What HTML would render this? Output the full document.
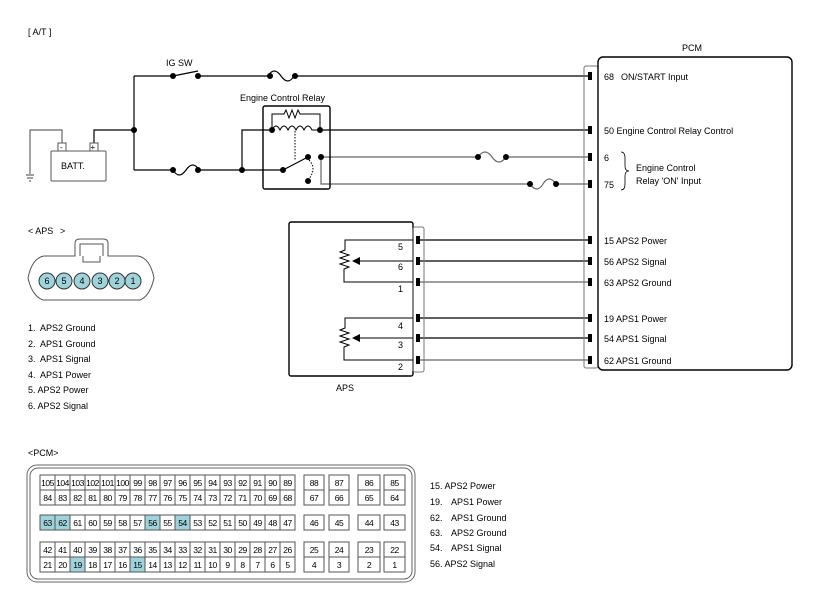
<!DOCTYPE html>
<html><head><meta charset="utf-8"><style>
html,body{margin:0;padding:0;background:#fff;}
svg{display:block;font-family:"Liberation Sans",Arial,sans-serif;}
</style></head><body>
<svg width="813" height="610" viewBox="0 0 813 610" xmlns="http://www.w3.org/2000/svg">
<g font-size="9" fill="#000">
<text x="28" y="35">[ A/T ]</text>
<text x="166" y="66">IG SW</text>
<text x="240" y="101">Engine Control Relay</text>
<text x="682" y="51">PCM</text>
<text x="28" y="234">&lt; APS</text><text x="60" y="234">&gt;</text>
<text x="336" y="391">APS</text>
<text x="28" y="456">&lt;PCM&gt;</text>
</g>
<!-- wires -->
<g stroke="#000" stroke-width="1.2" fill="none">
<path d="M134 76 V170 M134 76 H173 M198 76 H268 M295 76 H590"/>
<path d="M134 170 H173 M198 170 H283"/>
<path d="M242 170 V130 H272 M320 130 H590"/>
<path d="M94 146 V130 H134"/>
<path d="M173 76 L198 71"/>
<path d="M268 76 q6 -10 13 0 t13 0"/>
<path d="M173 170 q6 10 13 0 t13 0"/>
<path d="M283 170 L308 157"/>
<path d="M418 240 H590 M418 261 H590 M418 318 H590 M418 338 H590"/>
</g>
<g stroke="#666" stroke-width="1.2" fill="none">
<path d="M62 146 V130 H30 V174"/>
<path d="M26 175 h8 M27 178 h6 M29 181 h2"/>
<path d="M321 157 H478 M506 157 H590 M478 157 q7 -10 14 0 t14 0"/>
<path d="M321 157 V184 H530 M556 184 H590 M530 184 q7 10 13 0 t13 0"/>
<path d="M418 282 H590 M418 360 H590"/>
</g>
<g fill="#000">
<circle cx="134" cy="130" r="3"/><circle cx="173" cy="76" r="3"/><circle cx="198" cy="76" r="3"/>
<circle cx="270" cy="76" r="3"/><circle cx="295" cy="76" r="3"/>
<circle cx="173" cy="170" r="3"/><circle cx="198" cy="170" r="3"/><circle cx="242" cy="170" r="3"/>
<circle cx="272" cy="130" r="3"/><circle cx="320" cy="130" r="3"/>
<circle cx="283" cy="170" r="3"/><circle cx="308" cy="157" r="3"/><circle cx="321" cy="157" r="3"/><circle cx="308" cy="181" r="3"/>
<circle cx="478" cy="157" r="3"/><circle cx="506" cy="157" r="3"/><circle cx="530" cy="184" r="3"/><circle cx="556" cy="184" r="3"/>
</g>
<!-- battery -->
<rect x="51" y="151" width="55" height="30" fill="#fff" stroke="#555" rx="1"/>
<text x="61" y="169" font-size="9">BATT.</text>
<rect x="58" y="143" width="8" height="8" fill="#fff" stroke="#555"/><text x="60" y="150" font-size="8">-</text>
<rect x="90" y="143" width="8" height="8" fill="#fff" stroke="#555"/><text x="90.5" y="150" font-size="8">+</text>
<!-- relay -->
<rect x="263" y="106" width="67" height="83" rx="2" fill="none" stroke="#000" stroke-width="1.4"/>
<path d="M272 130 V114 H284 l2 -4 l3 8 l3 -8 l3 8 l3 -8 l2 4 H320 V130" fill="none" stroke="#000"/>
<path d="M272 130 q4 -8 8 0 q4 -8 8 0 q4 -8 8 0 q4 -8 8 0 q4 -8 8 0 H320" fill="none" stroke="#000"/>
<path d="M295 131 V160" stroke="#000" stroke-dasharray="1.5,1.5"/>
<path d="M309 160 q8 8 0 19" fill="none" stroke="#000" stroke-dasharray="1.5,1.5"/>
<!-- PCM -->
<rect x="584" y="66" width="14" height="302" rx="2" fill="none" stroke="#777"/>
<rect x="598" y="57" width="194" height="313" rx="5" fill="#fff" stroke="#000" stroke-width="1.4"/>
<g fill="#000">
<rect x="588" y="72" width="4" height="8"/><rect x="588" y="126" width="4" height="8"/><rect x="588" y="153" width="4" height="8"/><rect x="588" y="180" width="4" height="8"/>
<rect x="588" y="236" width="4" height="8"/><rect x="588" y="257" width="4" height="8"/><rect x="588" y="278" width="4" height="8"/><rect x="588" y="314" width="4" height="8"/><rect x="588" y="334" width="4" height="8"/><rect x="588" y="356" width="4" height="8"/>
</g>
<g font-size="9" fill="#000">
<text x="604" y="80">68</text><text x="621" y="80">ON/START Input</text>
<text x="604" y="134">50 Engine Control Relay Control</text>
<text x="604" y="161">6</text>
<text x="604" y="188">75</text>
<text x="636" y="171">Engine Control</text>
<text x="636" y="184">Relay 'ON' Input</text>
<text x="604" y="244">15 APS2 Power</text>
<text x="604" y="265">56 APS2 Signal</text>
<text x="604" y="286">63 APS2 Ground</text>
<text x="604" y="322">19 APS1 Power</text>
<text x="604" y="342">54 APS1 Signal</text>
<text x="604" y="364">62 APS1 Ground</text>
</g>
<path d="M621 152 q4 0 4 6 v8 q0 5 4 5 q-4 0 -4 5 v8 q0 6 -4 6" fill="none" stroke="#000" stroke-width="0.8"/>
<!-- APS box -->
<rect x="289" y="222" width="124" height="154" rx="2" fill="none" stroke="#000" stroke-width="1.4"/>
<rect x="413" y="227" width="11" height="145" rx="2" fill="none" stroke="#777"/>
<g fill="#000">
<rect x="416" y="236" width="4" height="8"/><rect x="416" y="257" width="4" height="8"/><rect x="416" y="278" width="4" height="8"/><rect x="416" y="314" width="4" height="8"/><rect x="416" y="334" width="4" height="8"/><rect x="416" y="356" width="4" height="8"/>
</g>
<g fill="none" stroke="#000" stroke-width="1">
<path d="M413 240 H345 V250 l-5 2 l9 3 l-9 3 l9 3 l-9 3 l9 3 l-5 2 V282 H413"/>
<path d="M413 318 H345 V328 l-5 2 l9 3 l-9 3 l9 3 l-9 3 l9 3 l-5 2 V360 H413"/>
<path d="M413 261 H360 M413 338 H360"/>
</g>
<path d="M352 261 l8 -4 v8 z M352 338 l8 -4 v8 z" fill="#000"/>
<g font-size="9" fill="#000">
<text x="398" y="250">5</text><text x="398" y="270">6</text><text x="398" y="292">1</text>
<text x="398" y="329">4</text><text x="398" y="348">3</text><text x="398" y="370">2</text>
</g>
<!-- APS connector -->
<path d="M75 256 V243 Q75 239 80 239 H103 Q108 239 108 243 V256 H138 Q150 258 154 278 Q150 296 140 300 H43 Q32 296 28 278 Q32 258 44 256 Z" fill="#fff" stroke="#555"/>
<path d="M80 256 V244 H103 V256 M83 256 V262 H100 V256" fill="none" stroke="#555"/>
<g fill="#9fd3dc" stroke="#333">
<circle cx="47" cy="281" r="8"/><circle cx="64" cy="281" r="8"/><circle cx="82" cy="281" r="8"/><circle cx="100" cy="281" r="8"/><circle cx="117" cy="281" r="8"/><circle cx="133" cy="281" r="8"/>
</g>
<g font-size="9" fill="#000" text-anchor="middle">
<text x="47" y="284">6</text><text x="64" y="284">5</text><text x="82" y="284">4</text><text x="100" y="284">3</text><text x="117" y="284">2</text><text x="133" y="284">1</text>
</g>
<g font-size="9" fill="#000">
<text x="28" y="331">1.</text><text x="40" y="331">APS2 Ground</text>
<text x="28" y="347">2.</text><text x="40" y="347">APS1 Ground</text>
<text x="28" y="362">3.</text><text x="40" y="362">APS1 Signal</text>
<text x="28" y="378">4.</text><text x="40" y="378">APS1 Power</text>
<text x="28" y="393">5. APS2 Power</text>
<text x="28" y="409">6. APS2 Signal</text>
</g>
<!-- PCM connector -->
<rect x="27" y="465" width="388" height="117" rx="10" fill="none" stroke="#666"/>
<rect x="30" y="468" width="382" height="111" rx="8" fill="none" stroke="#666"/>
<g fill="#9fd3dc">
<rect x="40" y="515" width="30" height="15"/><rect x="145" y="515" width="15" height="15"/><rect x="175" y="515" width="15" height="15"/>
<rect x="70" y="557" width="15" height="15"/><rect x="130" y="557" width="15" height="15"/>
</g>
<g fill="none" stroke="#555" stroke-width="1">
<rect x="40" y="475" width="255" height="30"/><path d="M40 490 H295"/>
<rect x="40" y="515" width="255" height="15"/>
<rect x="40" y="542" width="255" height="30"/><path d="M40 557 H295"/>
<path d="M55 475V505M70 475V505M85 475V505M100 475V505M115 475V505M130 475V505M145 475V505M160 475V505M175 475V505M190 475V505M205 475V505M220 475V505M235 475V505M250 475V505M265 475V505M280 475V505"/>
<path d="M55 515V530M70 515V530M85 515V530M100 515V530M115 515V530M130 515V530M145 515V530M160 515V530M175 515V530M190 515V530M205 515V530M220 515V530M235 515V530M250 515V530M265 515V530M280 515V530"/>
<path d="M55 542V572M70 542V572M85 542V572M100 542V572M115 542V572M130 542V572M145 542V572M160 542V572M175 542V572M190 542V572M205 542V572M220 542V572M235 542V572M250 542V572M265 542V572M280 542V572"/>
<rect x="304" y="475" width="20" height="30"/><rect x="329" y="475" width="20" height="30"/><rect x="358" y="475" width="22" height="30"/><rect x="384" y="475" width="21" height="30"/>
<path d="M304 490h20M329 490h20M358 490h22M384 490h21"/>
<rect x="304" y="515" width="20" height="15"/><rect x="329" y="515" width="20" height="15"/><rect x="358" y="515" width="22" height="15"/><rect x="384" y="515" width="21" height="15"/>
<rect x="304" y="542" width="20" height="30"/><rect x="329" y="542" width="20" height="30"/><rect x="358" y="542" width="22" height="30"/><rect x="384" y="542" width="21" height="30"/>
<path d="M304 557h20M329 557h20M358 557h22M384 557h21"/>
</g>
<g font-size="8.5" fill="#000" text-anchor="middle" letter-spacing="-0.5">
<text y="486"><tspan x="47.5">105</tspan><tspan x="62.5">104</tspan><tspan x="77.5">103</tspan><tspan x="92.5">102</tspan><tspan x="107.5">101</tspan><tspan x="122.5">100</tspan><tspan x="137.5">99</tspan><tspan x="152.5">98</tspan><tspan x="167.5">97</tspan><tspan x="182.5">96</tspan><tspan x="197.5">95</tspan><tspan x="212.5">94</tspan><tspan x="227.5">93</tspan><tspan x="242.5">92</tspan><tspan x="257.5">91</tspan><tspan x="272.5">90</tspan><tspan x="287.5">89</tspan><tspan x="314">88</tspan><tspan x="339">87</tspan><tspan x="369">86</tspan><tspan x="394.5">85</tspan></text>
<text y="501"><tspan x="47.5">84</tspan><tspan x="62.5">83</tspan><tspan x="77.5">82</tspan><tspan x="92.5">81</tspan><tspan x="107.5">80</tspan><tspan x="122.5">79</tspan><tspan x="137.5">78</tspan><tspan x="152.5">77</tspan><tspan x="167.5">76</tspan><tspan x="182.5">75</tspan><tspan x="197.5">74</tspan><tspan x="212.5">73</tspan><tspan x="227.5">72</tspan><tspan x="242.5">71</tspan><tspan x="257.5">70</tspan><tspan x="272.5">69</tspan><tspan x="287.5">68</tspan><tspan x="314">67</tspan><tspan x="339">66</tspan><tspan x="369">65</tspan><tspan x="394.5">64</tspan></text>
<text y="526"><tspan x="47.5">63</tspan><tspan x="62.5">62</tspan><tspan x="77.5">61</tspan><tspan x="92.5">60</tspan><tspan x="107.5">59</tspan><tspan x="122.5">58</tspan><tspan x="137.5">57</tspan><tspan x="152.5">56</tspan><tspan x="167.5">55</tspan><tspan x="182.5">54</tspan><tspan x="197.5">53</tspan><tspan x="212.5">52</tspan><tspan x="227.5">51</tspan><tspan x="242.5">50</tspan><tspan x="257.5">49</tspan><tspan x="272.5">48</tspan><tspan x="287.5">47</tspan><tspan x="314">46</tspan><tspan x="339">45</tspan><tspan x="369">44</tspan><tspan x="394.5">43</tspan></text>
<text y="553"><tspan x="47.5">42</tspan><tspan x="62.5">41</tspan><tspan x="77.5">40</tspan><tspan x="92.5">39</tspan><tspan x="107.5">38</tspan><tspan x="122.5">37</tspan><tspan x="137.5">36</tspan><tspan x="152.5">35</tspan><tspan x="167.5">34</tspan><tspan x="182.5">33</tspan><tspan x="197.5">32</tspan><tspan x="212.5">31</tspan><tspan x="227.5">30</tspan><tspan x="242.5">29</tspan><tspan x="257.5">28</tspan><tspan x="272.5">27</tspan><tspan x="287.5">26</tspan><tspan x="314">25</tspan><tspan x="339">24</tspan><tspan x="369">23</tspan><tspan x="394.5">22</tspan></text>
<text y="568"><tspan x="47.5">21</tspan><tspan x="62.5">20</tspan><tspan x="77.5">19</tspan><tspan x="92.5">18</tspan><tspan x="107.5">17</tspan><tspan x="122.5">16</tspan><tspan x="137.5">15</tspan><tspan x="152.5">14</tspan><tspan x="167.5">13</tspan><tspan x="182.5">12</tspan><tspan x="197.5">11</tspan><tspan x="212.5">10</tspan><tspan x="227.5">9</tspan><tspan x="242.5">8</tspan><tspan x="257.5">7</tspan><tspan x="272.5">6</tspan><tspan x="287.5">5</tspan><tspan x="314">4</tspan><tspan x="339">3</tspan><tspan x="369">2</tspan><tspan x="394.5">1</tspan></text>
</g>
<g font-size="9" fill="#000">
<text x="430" y="489">15. APS2 Power</text>
<text x="430" y="505">19.</text><text x="451" y="505">APS1 Power</text>
<text x="430" y="521">62.</text><text x="451" y="521">APS1 Ground</text>
<text x="430" y="536">63.</text><text x="451" y="536">APS2 Ground</text>
<text x="430" y="551">54.</text><text x="451" y="551">APS1 Signal</text>
<text x="430" y="567">56. APS2 Signal</text>
</g>
</svg>
</body></html>
